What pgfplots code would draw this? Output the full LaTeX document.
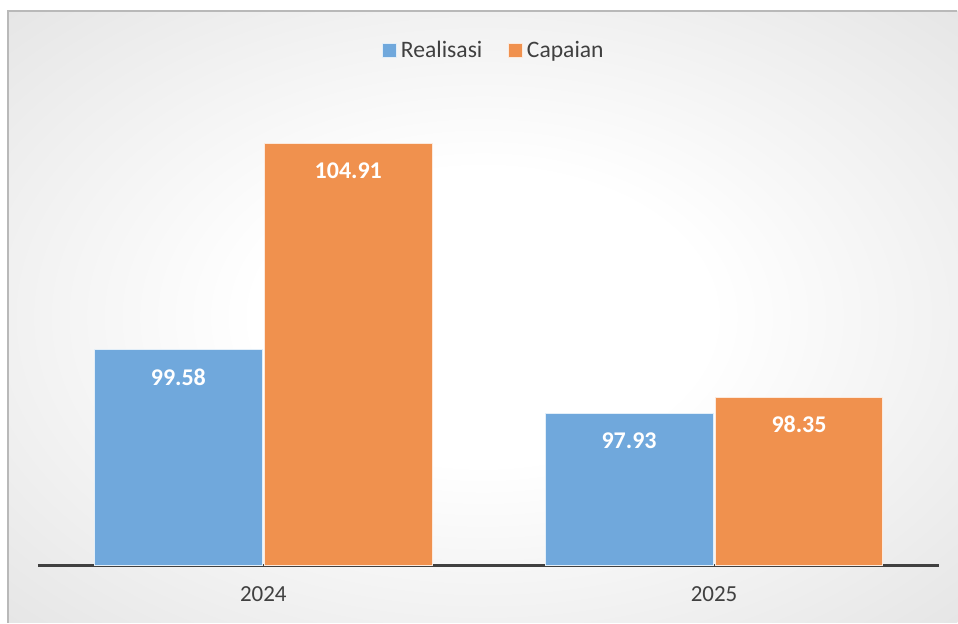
\documentclass[border=0pt]{standalone}
\usepackage{fontspec}
\setmainfont{Carlito}
\usepackage{pgfplots}
\pgfplotsset{compat=1.18}
\definecolor{barblue}{RGB}{112,168,220}
\definecolor{barorange}{RGB}{240,145,78}
\definecolor{axisgray}{RGB}{64,64,64}
\definecolor{textgray}{RGB}{64,64,64}
\pgfdeclareradialshading{bgshade}{\pgfpoint{0bp}{0bp}}{color(0bp)=(white); color(12bp)=(white); color(50bp)=(gray!32); color(72bp)=(gray!50)}
\begin{document}
\begin{tikzpicture}
\path (0,0) rectangle (479pt,311.5pt);
\shade[shading=bgshade] (4pt,0) rectangle (479pt,306pt);
\draw[gray!55, line width=0.6pt] (4pt,0) -- (4pt,306pt) -- (479pt,306pt);
\begin{axis}[
  at={(19pt,28.5pt)}, anchor=south west,
  scale only axis, width=451pt, height=232.2pt,
  xmin=-0.5, xmax=1.5, ymin=94, ymax=106,
  ybar, bar width=0.3725,
  axis x line=bottom, axis y line=none,
  x axis line style={-, line width=1.6pt, color=axisgray},
  xtick={0,1}, xticklabels={2024,2025},
  major tick length=0pt,
  xticklabel style={font=\fontsize{11.5}{13}\selectfont, text=textgray, yshift=-7pt},
  nodes near coords, point meta=explicit symbolic,
  nodes near coords style={font=\bfseries\fontsize{12}{14}\selectfont, text=white, anchor=center, yshift=-13.5pt},
  legend style={at={(0.507,1.11)}, anchor=center, draw=none, fill=none,
    legend columns=2, font=\fontsize{11.8}{13}\selectfont, text=textgray,
    /tikz/every even column/.append style={column sep=11pt}},
  legend image code/.code={\fill[#1] (0pt,-3.3pt) rectangle (6.8pt,3.5pt);},
  clip=false,
]
\addplot[fill=barblue, draw=white!80!barblue, line width=0.5pt, bar shift=-0.1885]
  coordinates {(0,99.58) [99.58] (1,97.93) [97.93]};
\addplot[fill=barorange, draw=white!80!barorange, line width=0.5pt, bar shift=0.1885]
  coordinates {(0,104.91) [104.91] (1,98.35) [98.35]};
\legend{Realisasi, Capaian}
\end{axis}
\end{tikzpicture}
\end{document}
